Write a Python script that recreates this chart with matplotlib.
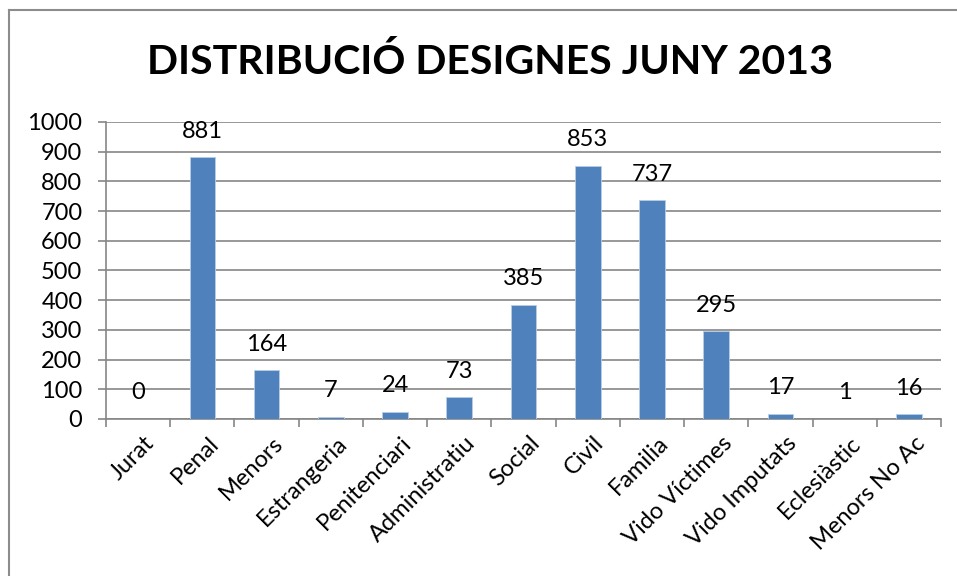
import matplotlib.pyplot as plt
import matplotlib.transforms as mtransforms
from matplotlib.lines import Line2D
import numpy as np

categories = [
    "Jurat", "Penal", "Menors", "Estrangeria", "Penitenciari", "Administratiu",
    "Social", "Civil", "Familia", "Vido Víctimes", "Vido Imputats",
    "Eclesiàstic", "Menors No Ac",
]
values = [0, 881, 164, 7, 24, 73, 385, 853, 737, 295, 17, 1, 16]
y_ticks = list(range(0, 1001, 100))
title = "DISTRIBUCIÓ DESIGNES JUNY 2013"

plt.rcParams["font.family"] = ["Lato", "DejaVu Sans"]

fig = plt.figure(figsize=(9.57, 5.76), dpi=100)
ax = fig.add_axes([0.1108, 0.2726, 0.8725, 0.5156])

x = np.arange(len(categories))
ax.bar(x, values, width=0.4, color="#4F81BD", edgecolor="#B9CDE5", linewidth=0.6, zorder=3)

for xi, v in zip(x, values):
    ax.annotate(str(v), (xi, v), xytext=(0, 26), textcoords="offset pixels",
                ha="center", va="center", fontsize=17, color="black", zorder=4)

ax.set_xlim(-0.5, len(categories) - 0.5)
ax.set_ylim(0, 1000)
ax.set_yticks(y_ticks)
ax.tick_params(axis="y", labelsize=17, length=6, width=1.2, color="#868686", pad=11)
ax.yaxis.grid(True, color="#868686", linewidth=1.2, zorder=0)

ax.set_xticks(x)
ax.set_xticklabels(categories, rotation=45, ha="right", va="center",
                   rotation_mode="anchor", fontsize=17)
ax.tick_params(axis="x", length=0, pad=15)
shift = mtransforms.ScaledTranslation(13 / 100, 0, fig.dpi_scale_trans)
for lbl in ax.get_xticklabels():
    lbl.set_transform(lbl.get_transform() + shift)
ax.set_xticks(np.arange(-0.5, len(categories), 1), minor=True)
ax.tick_params(axis="x", which="minor", length=6, color="#868686", width=1.2)

for side in ["top", "right"]:
    ax.spines[side].set_visible(False)
ax.spines["left"].set_color("#868686")
ax.spines["bottom"].set_color("#868686")
ax.spines["left"].set_linewidth(1.2)
ax.spines["bottom"].set_linewidth(1.2)

fig.text(0.512, 0.892, title, ha="center", va="center", fontsize=29.5, fontweight="bold")

# chart frame (top and left edge visible)
fig.add_artist(Line2D([9 / 957, 1.0], [1 - 10 / 576, 1 - 10 / 576], color="#8C8C8C", linewidth=1.5))
fig.add_artist(Line2D([9 / 957, 9 / 957], [0, 1 - 10 / 576], color="#8C8C8C", linewidth=1.5))

fig.savefig("out.png", dpi=100)
